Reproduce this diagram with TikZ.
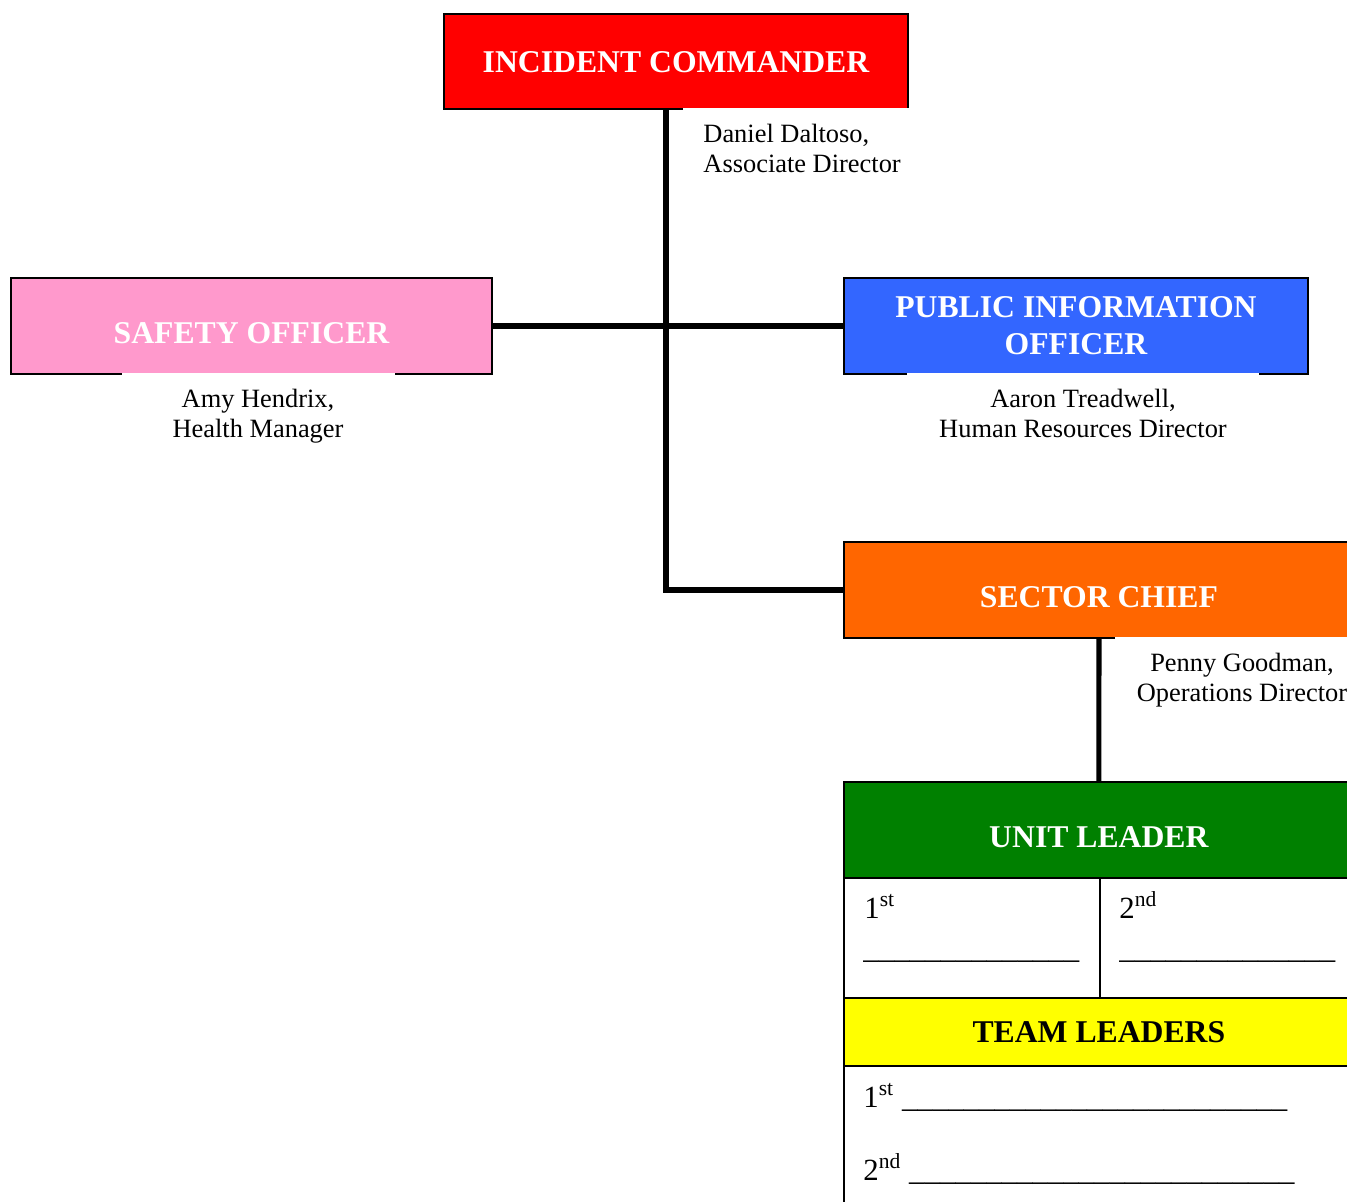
\documentclass[tikz,border=0pt]{standalone}
\usepackage{fontspec}
\setmainfont{Liberation Serif}
\usetikzlibrary{positioning}

\definecolor{cmdred}{HTML}{FF0000}
\definecolor{safepink}{HTML}{FF99CC}
\definecolor{infoblue}{HTML}{3366FF}
\definecolor{chieforange}{HTML}{FF6600}
\definecolor{unitgreen}{HTML}{008000}
\definecolor{teamyellow}{HTML}{FFFF00}

\newcommand{\pw}{0.4543pt}

\tikzset{
  role/.style={draw=black, line width=0.9pt, anchor=north west, inner sep=0pt,
    minimum height=96*\pw, text=white, align=center,
    font=\fontsize{14.4}{16.8}\selectfont\bfseries},
  capmid/.style={text height=10pt, text depth=0pt},
  caplow/.style={text height=16pt, text depth=0pt},
  who/.style={fill=white, inner xsep=0pt, inner ysep=7pt, anchor=north,
    align=center, font=\fontsize{12}{13.8}\selectfont},
  cell/.style={draw=black, line width=0.8pt, anchor=north west, inner sep=0pt},
  entry/.style={anchor=base west, inner sep=0pt, font=\fontsize{14}{16.8}\selectfont},
  link/.style={line width=2.3pt, draw=black}
}

\begin{document}
\begin{tikzpicture}[x=0.4543pt, y=-0.4543pt]
    \useasboundingbox (0,0) rectangle (1347,1201);
    \clip (0,0) rectangle (1347,1201);

    % Role boxes
    \node[role, capmid, fill=cmdred, minimum width=464*\pw, minimum height=95*\pw] (ic) at (443,13) {INCIDENT COMMANDER};
    \node[role, caplow, fill=safepink, minimum width=481*\pw] (so) at (10,277) {SAFETY OFFICER};
    \node[role, fill=infoblue, minimum width=464*\pw] (pio) at (843,277) {PUBLIC INFORMATION\\OFFICER};
    \node[role, caplow, fill=chieforange, minimum width=510*\pw] (sc) at (843,541) {SECTOR CHIEF};

    % Names under the boxes
    \node[who, anchor=north west, inner xsep=20*\pw, align=left, minimum width=224*\pw] (icname) at (683,108) {Daniel Daltoso,\\Associate Director};
    \node[who, minimum width=273*\pw] (soname) at (258,373) {Amy Hendrix,\\Health Manager};
    \node[who, minimum width=352*\pw] (pioname) at (1083,373) {Aaron Treadwell,\\Human Resources Director};
    \node[who, minimum width=254*\pw] (scname) at (1242,637) {Penny Goodman,\\Operations Director};

    % Unit leader table
    \node[role, caplow, fill=unitgreen, line width=0.8pt, minimum width=510*\pw] (ul) at (843,781) {UNIT LEADER};
    \node[cell, minimum width=256*\pw, minimum height=120*\pw] (ulone) at (843,877) {};
    \node[cell, minimum width=254*\pw, minimum height=120*\pw] (ultwo) at (1099,877) {};
    \node[role, capmid, fill=teamyellow, text=black, line width=0.8pt, minimum width=510*\pw, minimum height=68*\pw] (tl) at (843,997) {TEAM LEADERS};
    \node[cell, minimum width=510*\pw, minimum height=170*\pw] (tlrows) at (843,1065) {};

    % Blanks to fill in
    \node[entry] (uloneno) at (864,918) {1\textsuperscript{st}};
    \node[entry] (uloneln) at (863,958) {\_\_\_\_\_\_\_\_\_\_\_\_\_\_};
    \node[entry] (ultwono) at (1119,918) {2\textsuperscript{nd}};
    \node[entry] (ultwoln) at (1119,958) {\_\_\_\_\_\_\_\_\_\_\_\_\_\_};
    \node[entry] (tlone) at (863,1107) {1\textsuperscript{st} \_\_\_\_\_\_\_\_\_\_\_\_\_\_\_\_\_\_\_\_\_\_\_\_\_};
    \node[entry] (tltwo) at (863,1180) {2\textsuperscript{nd} \_\_\_\_\_\_\_\_\_\_\_\_\_\_\_\_\_\_\_\_\_\_\_\_\_};

    % Connectors
    \coordinate (trunk) at (666,108);
    \draw[link] (trunk) |- (sc.west);
    \draw[link] (so.east) -- (pio.west);
    \draw[link] (sc.south) -- (ul.north);
\end{tikzpicture}
\end{document}
